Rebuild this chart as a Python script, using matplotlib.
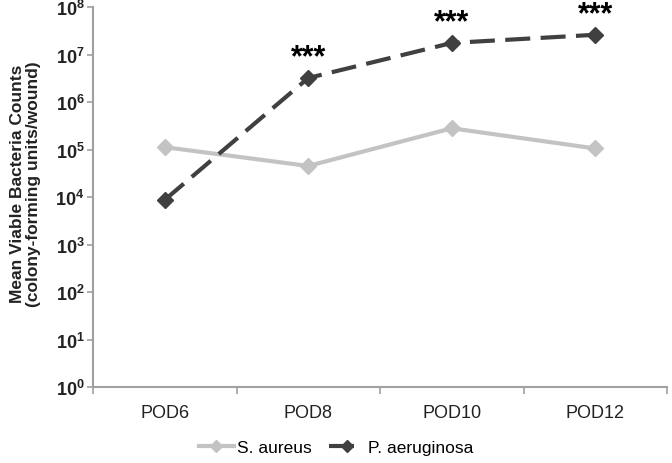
import numpy as np
import matplotlib
matplotlib.use("Agg")
import matplotlib.pyplot as plt
from matplotlib.ticker import FixedLocator, NullFormatter

plt.rcParams['font.family'] = ['Liberation Sans', 'DejaVu Sans']
plt.rcParams['mathtext.fontset'] = 'custom'
plt.rcParams['mathtext.rm'] = 'Liberation Sans'
plt.rcParams['mathtext.bf'] = 'Liberation Sans:bold'
plt.rcParams['mathtext.default'] = 'bf'

# data
days = ["POD6", "POD8", "POD10", "POD12"]
s_aureus = [1.12e5, 4.5e4, 2.8e5, 1.05e5]
p_aeruginosa = [8.7e3, 3.2e6, 1.75e7, 2.6e7]
signif = ["", "***", "***", "***"]
ytick_vals = [10.0 ** k for k in range(0, 9)]
ytick_labels = [r"$10^{%d}$" % k for k in range(0, 9)]

fig = plt.figure(figsize=(6.72, 4.64), dpi=100)
ax = fig.add_axes([93 / 672, 76 / 464, 574 / 672, 380 / 464])

x = np.arange(len(days))
ax.plot(x, s_aureus, color="#c3c3c3", lw=3, marker="D", ms=8,
        label="S. aureus")
ax.plot(x, p_aeruginosa, color="#404040", lw=3, marker="D", ms=8,
        dashes=(6, 2.5), label="P. aeruginosa")

# significance stars
for xi, val, s in zip(x, p_aeruginosa, signif):
    if s:
        ax.annotate(s, (xi, val), xytext=(0, 9), textcoords="offset points",
                    ha="center", va="baseline", fontsize=22,
                    fontweight="bold", color="black")

ax.set_yscale("log")
ax.set_ylim(1, 1e8)
ax.yaxis.set_major_locator(FixedLocator(ytick_vals))
ax.yaxis.set_minor_locator(FixedLocator([]))
ax.set_yticklabels(ytick_labels)
ax.tick_params(axis="y", labelsize=13, length=4, width=1.2, color="#a0a0a0",
               pad=2, labelcolor="#222222")

ax.set_xlim(-0.5, 3.5)
ax.set_xticks(x)
ax.set_xticklabels(days)
ax.set_xticks(np.arange(-0.5, 4.0, 1.0), minor=True)
ax.xaxis.set_minor_formatter(NullFormatter())
ax.tick_params(axis="x", which="major", length=0, labelsize=13, pad=12,
               labelcolor="#222222")
ax.tick_params(axis="x", which="minor", length=5, width=1.2, color="#a0a0a0")

for side in ["top", "right"]:
    ax.spines[side].set_visible(False)
for side in ["left", "bottom"]:
    ax.spines[side].set_color("#a0a0a0")
    ax.spines[side].set_linewidth(1.5)

ax.set_ylabel("Mean Viable Bacteria Counts\n(colony-forming units/wound)",
              fontsize=12.5, fontweight="bold", color="#222222", linespacing=1.15)
ax.yaxis.set_label_coords(-0.09, 0.537)

fig.legend(loc="center", bbox_to_anchor=(0.5, 1 - 448 / 464), ncol=2,
           frameon=False, fontsize=12.5, handlelength=2.0, handletextpad=0.2,
           columnspacing=1.0, markerscale=0.8)

fig.savefig("out.png", dpi=100)
